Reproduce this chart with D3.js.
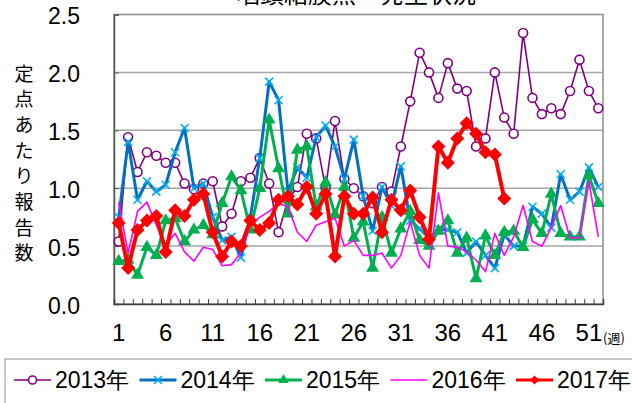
<!DOCTYPE html>
<html>
<head>
<meta charset="utf-8">
<script src="https://cdn.jsdelivr.net/npm/d3@7"></script>
<style>
  body { margin: 0; background: #fff; }
  svg { display: block; }
</style>
</head>
<body>
<svg></svg>
<script>
// weekly per-sentinel reports, 咽頭結膜熱
const weeks = d3.range(1, 53);
const xTickLabels = [1, 6, 11, 16, 21, 26, 31, 36, 41, 46, 51];
const yTicks = [0, 0.5, 1.0, 1.5, 2.0, 2.5];

const y2013 = [0.54,1.44,1.14,1.31,1.28,1.22,1.22,1.04,0.99,1.04,
               1.06,0.67,0.78,1.06,1.09,1.26,1.04,0.62,0.90,1.01,
               1.47,1.43,1.00,1.58,1.08,1.00,0.93,0.87,1.01,0.97,
               1.36,1.75,2.17,2.00,1.78,2.08,1.86,1.84,1.36,1.43,
               2.00,1.61,1.47,2.34,1.78,1.64,1.69,1.64,1.84,2.11,
               1.84,1.69];
const y2014 = [0.75,1.40,0.90,1.06,0.97,1.03,1.31,1.52,1.00,1.04,
               0.75,0.55,0.58,0.40,0.75,1.26,1.92,1.76,0.97,1.18,
               1.09,1.44,1.54,1.36,1.08,1.42,0.93,0.63,1.01,0.85,
               1.19,0.72,0.65,0.57,0.65,0.64,0.62,0.44,0.54,0.42,
               0.31,0.60,0.50,0.50,0.84,0.78,0.66,1.12,0.90,0.97,
               1.18,1.01];
const y2015 = [0.37,0.38,0.25,0.49,0.42,0.72,0.74,0.54,0.64,0.68,
               0.60,0.87,1.10,0.98,0.64,1.00,1.59,1.17,0.78,1.33,
               1.36,0.84,1.05,0.77,1.01,0.57,0.71,0.31,0.75,0.44,
               0.65,0.80,0.55,0.50,0.63,0.72,0.44,0.57,0.22,0.59,
               0.42,0.62,0.63,0.49,0.73,0.61,0.95,0.61,0.58,0.58,
               1.11,0.87];
const y2016 = [0.88,0.44,0.80,0.88,0.68,0.51,0.61,0.45,0.37,0.49,
               0.47,0.33,0.34,0.44,0.68,0.75,0.80,0.87,0.84,0.62,
               0.54,0.68,0.71,0.74,0.50,0.55,0.42,0.42,0.44,0.31,
               0.42,0.71,0.42,0.31,0.96,0.50,0.49,0.45,0.38,0.28,
               0.61,0.42,0.58,0.85,0.54,0.50,0.66,0.85,0.57,0.57,
               1.06,0.58];
const y2017 = [0.70,0.31,0.64,0.72,0.76,0.45,0.81,0.76,0.90,0.95,
               0.62,0.41,0.54,0.50,0.72,0.64,0.70,0.90,0.93,0.86,
               1.01,0.78,0.95,0.41,0.93,0.78,0.78,0.92,0.62,0.90,
               0.81,0.98,0.75,0.56,1.36,1.22,1.43,1.56,1.47,1.31,
               1.29,0.91];

const seriesNames = ['2013年', '2014年', '2015年', '2016年', '2017年'];
const seriesValues = [y2013, y2014, y2015, y2016, y2017];

let width = 632;
let height = 403;
let plotLeft = 114, plotRight = 603, plotTop = 14.5, plotBottom = 304;

const style = {
  '2013年': { line: '#800080', width: 1.6, marker: 'circle' },
  '2014年': { line: '#0070C0', width: 3, marker: 'cross' },
  '2015年': { line: '#00B050', width: 3, marker: 'triangle' },
  '2016年': { line: '#FF00FF', width: 1.6, marker: 'none' },
  '2017年': { line: '#FF0000', width: 4, marker: 'diamond' }
};

const svg = d3.select('svg')
  .attr('width', width)
  .attr('height', height)
  .style('font-family', '"Liberation Sans", Arial, sans-serif');

const xScale = d3.scaleBand().domain(weeks).range([plotLeft, plotRight]);
const xEdge = d3.scaleLinear().domain([0.5, 52.5]).range([plotLeft, plotRight]);
const yScale = d3.scaleLinear().domain([0, 2.5]).range([plotBottom, plotTop]);
const xPos = (i) => xScale(weeks[i]) + xScale.bandwidth() / 2;

// title (cut off at the top)
svg.append('text')
   .attr('x', 356).attr('y', 3)
   .attr('text-anchor', 'middle')
   .style('font-family', '"Noto Sans CJK JP"')
   .style('font-size', '24px')
   .text('咽頭結膜熱　発生状況');

// grid
svg.append('g')
   .selectAll('line')
   .data(yTicks.filter(d => d > 0 && d < 2.5))
   .enter()
   .append('line')
   .attr('x1', plotLeft).attr('x2', plotRight)
   .attr('y1', d => yScale(d)).attr('y2', d => yScale(d))
   .attr('stroke', '#a6a6a6')
   .attr('stroke-width', 1.5);

// plot frame
svg.append('rect')
   .attr('x', plotLeft).attr('y', plotTop)
   .attr('width', plotRight - plotLeft).attr('height', plotBottom - plotTop)
   .attr('fill', 'none')
   .attr('stroke', '#8c8c8c')
   .attr('stroke-width', 1.5);

// y axis
let yAxis = d3.axisLeft(yScale)
  .tickValues(yTicks)
  .tickFormat(d3.format('.1f'))
  .tickSize(-5)
  .tickPadding(34);
svg.append('g')
   .attr('transform', 'translate(' + plotLeft + ',0)')
   .call(yAxis)
   .call(g => g.select('.domain').attr('stroke', '#595959').attr('stroke-width', 1.5))
   .call(g => g.selectAll('.tick line').attr('stroke', '#595959'))
   .call(g => g.selectAll('text').style('font-size', '23px').attr('fill', '#000').attr('dy', '0.4em'));

// x axis: ticks at week boundaries
let xTickAxis = d3.axisBottom(xEdge)
  .tickValues(d3.range(0.5, 53, 1))
  .tickFormat('')
  .tickSize(-5);
svg.append('g')
   .attr('transform', 'translate(0,' + plotBottom + ')')
   .call(xTickAxis)
   .call(g => g.select('.domain').attr('stroke', '#404040').attr('stroke-width', 1.5))
   .call(g => g.selectAll('.tick line').attr('stroke', '#404040'));

let xLabelAxis = d3.axisBottom(xScale)
  .tickValues(xTickLabels)
  .tickSize(0)
  .tickPadding(20);
svg.append('g')
   .attr('transform', 'translate(0,' + plotBottom + ')')
   .call(xLabelAxis)
   .call(g => g.select('.domain').remove())
   .call(g => g.selectAll('text').style('font-size', '24px').attr('fill', '#000'));

svg.append('text')
   .attr('x', 603).attr('y', 343)
   .style('font-family', '"Noto Sans CJK JP"')
   .style('font-size', '13px')
   .text('(週)');

// y title, vertical
const yTitle = '定点あたり報告数'.split('');
svg.append('g')
   .selectAll('text')
   .data(yTitle)
   .enter()
   .append('text')
   .attr('x', 24)
   .attr('y', (d, i) => 72 + i * 25.7)
   .attr('text-anchor', 'middle')
   .attr('dominant-baseline', 'central')
   .style('font-family', '"Noto Sans CJK JP"')
   .style('font-size', '19px')
   .text(d => d);

let drawMarker = (g, kind, color, size) => {
  if (kind === 'circle') {
    g.append('circle').attr('r', size)
     .attr('fill', '#fff').attr('stroke', color).attr('stroke-width', 1.6);
  } else if (kind === 'cross') {
    g.append('path').attr('d', 'M-4,-4L4,4M-4,4L4,-4')
     .attr('stroke', '#00B0F0').attr('stroke-width', 1.6).attr('fill', 'none');
  } else if (kind === 'triangle') {
    g.append('path').attr('d', d3.symbol(d3.symbolTriangle, size * 16)())
     .attr('fill', color);
  } else if (kind === 'diamond') {
    g.append('path').attr('d', 'M0,-' + size + 'L' + size + ',0L0,' + size + 'L-' + size + ',0Z')
     .attr('fill', color);
  }
};

const markerSize = { circle: 4.5, triangle: 4.5, diamond: 7, cross: 4 };

let line = d3.line()
  .x((d, i) => xPos(i))
  .y(d => yScale(d));

seriesNames.forEach((name, k) => {
  const st = style[name];
  const vals = seriesValues[k];
  const g = svg.append('g');
  g.append('path')
   .datum(vals)
   .attr('d', line)
   .attr('fill', 'none')
   .attr('stroke', st.line)
   .attr('stroke-width', st.width)
   .attr('stroke-linejoin', 'round');
  if (st.marker !== 'none') {
    vals.forEach((v, i) => {
      const m = g.append('g').attr('transform', 'translate(' + xPos(i) + ',' + yScale(v) + ')');
      drawMarker(m, st.marker, st.line, markerSize[st.marker]);
    });
  }
});

// legend
svg.append('rect')
   .attr('x', 5).attr('y', 359)
   .attr('width', 640).attr('height', 60)
   .attr('fill', '#fff')
   .attr('stroke', '#a6a6a6')
   .attr('stroke-width', 1.2);

seriesNames.forEach((name, k) => {
  const st = style[name];
  const x0 = 14 + k * 125.5;
  const g = svg.append('g').attr('transform', 'translate(' + x0 + ',380)');
  g.append('line')
   .attr('x1', 0).attr('x2', 37)
   .attr('stroke', st.line)
   .attr('stroke-width', Math.min(st.width, 3));
  if (st.marker !== 'none') {
    const m = g.append('g').attr('transform', 'translate(18.5,0)');
    drawMarker(m, st.marker, st.line, st.marker === 'diamond' ? 4.5 : (st.marker === 'circle' ? 4 : 3));
  }
  g.append('text')
   .attr('x', 41)
   .attr('dy', '0.36em')
   .style('font-size', '23px')
   .text(name);
});
</script>
</body>
</html>
